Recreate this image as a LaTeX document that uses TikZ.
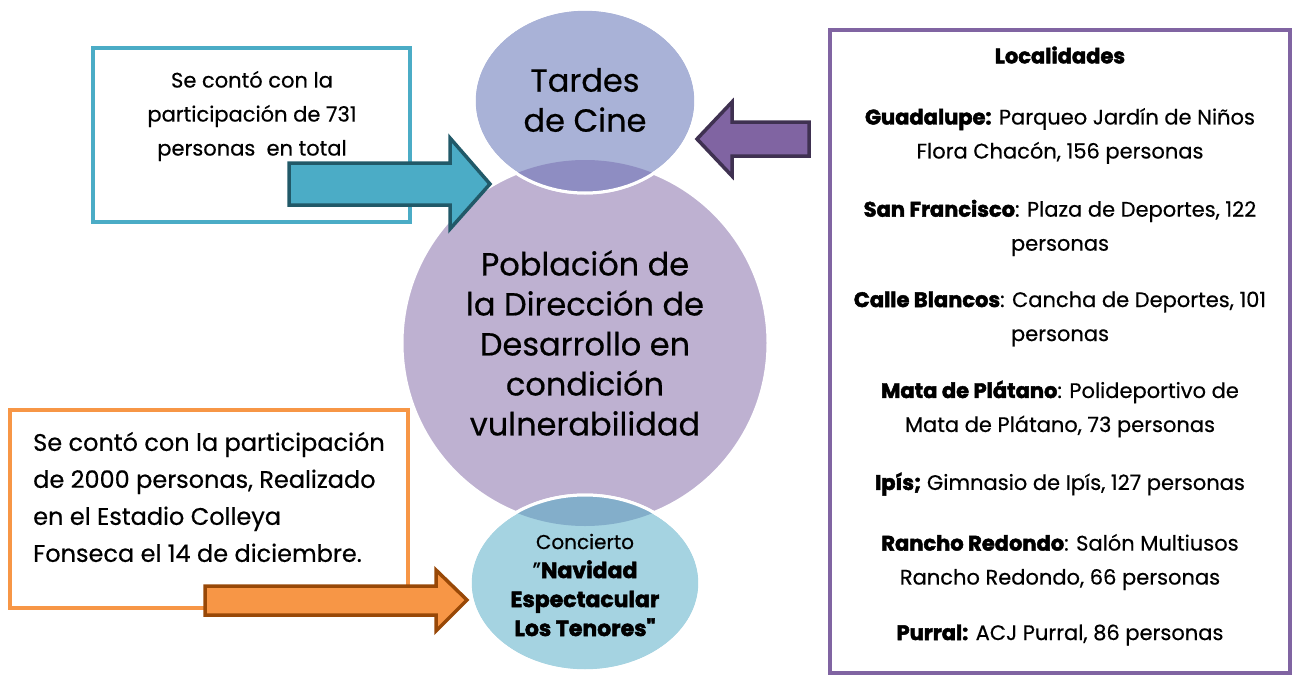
\documentclass[tikz,border=0pt]{standalone}
\usepackage{fontspec}
\setmainfont{Poppins}[FakeBold=0.5]
\newfontfamily\heavyfam{Poppins}[FakeBold=2.2]
\newcommand\heavyfont{\heavyfam\bfseries}
\usepackage{tikz}
\definecolor{cine}{RGB}{169, 178, 215}
\definecolor{cinedark}{RGB}{142, 141, 194}
\definecolor{poblacion}{RGB}{190, 177, 209}
\definecolor{concierto}{RGB}{165, 211, 225}
\definecolor{conciertodark}{RGB}{131, 174, 202}
\definecolor{teal}{RGB}{75, 172, 198}
\definecolor{tealdark}{RGB}{33, 89, 104}
\definecolor{lila}{RGB}{128, 100, 162}
\definecolor{liladark}{RGB}{63, 49, 81}
\definecolor{naranja}{RGB}{247, 150, 70}
\definecolor{naranjadark}{RGB}{152, 72, 7}

\begin{document}
\begin{tikzpicture}[x=1pt, y=-1pt,
    outline/.style={draw=white, line width=3},
    frame/.style={line width=4},
    blockarrow/.style={line width=3.5, line join=miter},
    small/.style={font=\fontsize{21}{34}\selectfont, align=center, inner sep=0},
    big/.style={font=\fontsize{32}{40}\selectfont, align=center, inner sep=0}]
  \useasboundingbox (0, 0) rectangle (1294, 675);

  % Cajas
  \draw[frame, teal] (93, 48) rectangle (410, 222);
  \draw[frame, naranja] (10, 410) rectangle (408, 608);
  \draw[frame, lila] (830, 30) rectangle (1290, 673);

  % Circulos
  \filldraw[fill=poblacion, outline] (585, 343) circle (183);
  \filldraw[fill=cine, outline] (585, 101) ellipse (111 and 92);
  \filldraw[fill=concierto, outline] (585, 583) ellipse (115 and 88);
  \begin{scope}
    \clip (585, 101) ellipse (111 and 92);
    \fill[cinedark] (585, 343) circle (183);
  \end{scope}
  \begin{scope}
    \clip (585, 583) ellipse (115 and 88);
    \fill[conciertodark] (585, 343) circle (183);
  \end{scope}
  \draw[outline] (585, 101) ellipse (111 and 92);
  \draw[outline] (585, 583) ellipse (115 and 88);

  % Flechas
  \filldraw[blockarrow, fill=teal, draw=tealdark]
    (289, 163) -- (450, 163) -- (450, 138) -- (490, 184)
    -- (450, 229) -- (450, 205) -- (289, 205) -- cycle;
  \filldraw[blockarrow, fill=lila, draw=liladark]
    (809, 122) -- (732, 122) -- (732, 102) -- (697, 139)
    -- (732, 176) -- (732, 156) -- (809, 156) -- cycle;
  \filldraw[blockarrow, fill=naranja, draw=naranjadark]
    (205, 586) -- (436, 586) -- (436, 570) -- (467, 600)
    -- (436, 631) -- (436, 615) -- (205, 615) -- cycle;

  % Textos
  \node[big] (cinetxt) at (585, 100) {Tardes\\de Cine};
  \node[big] (poblaciontxt) at (585, 343)
    {Población de\\la Dirección de\\Desarrollo en\\condición\\vulnerabilidad};
  \node[small, font=\fontsize{20}{29}\selectfont] (conciertotxt) at (585, 585)
    {Concierto\\{\fontsize{22}{29}\selectfont"\heavyfont Navidad}\\{\fontsize{22}{29}\selectfont\heavyfont Espectacular}\\{\fontsize{22}{29}\selectfont\heavyfont Los Tenores"}};
  \node[small] (total) at (252, 116)
    {Se contó con la\\participación de 731\\personas~ en total};
  \node[small, font=\fontsize{24}{37}\selectfont, align=left, anchor=west] (estadio) at (33, 497)
    {Se contó con la participación\\de 2000 personas, Realizado\\en el Estadio Colleya\\Fonseca el 14 de diciembre.};

  \node[small] (localidades) at (1060, 55) {\heavyfont Localidades};
  \node[small] (guadalupe) at (1060, 136)
    {{\heavyfont Guadalupe:} Parqueo Jardín de Niños\\Flora Chacón, 156 personas};
  \node[small] (sanfrancisco) at (1060, 228)
    {{\heavyfont San Francisco}: Plaza de Deportes, 122\\personas};
  \node[small] (calleblancos) at (1060, 319)
    {{\heavyfont Calle Blancos}: Cancha de Deportes, 101\\personas};
  \node[small] (mata) at (1060, 409)
    {{\heavyfont Mata de Plátano}: Polideportivo de\\Mata de Plátano, 73 personas};
  \node[small] (ipis) at (1060, 484)
    {{\heavyfont Ipís;} Gimnasio de Ipís, 127 personas};
  \node[small] (rancho) at (1060, 562)
    {{\heavyfont Rancho Redondo}: Salón Multiusos\\Rancho Redondo, 66 personas};
  \node[small] (purral) at (1060, 635)
    {{\heavyfont Purral:} ACJ Purral, 86 personas};
\end{tikzpicture}
\end{document}
